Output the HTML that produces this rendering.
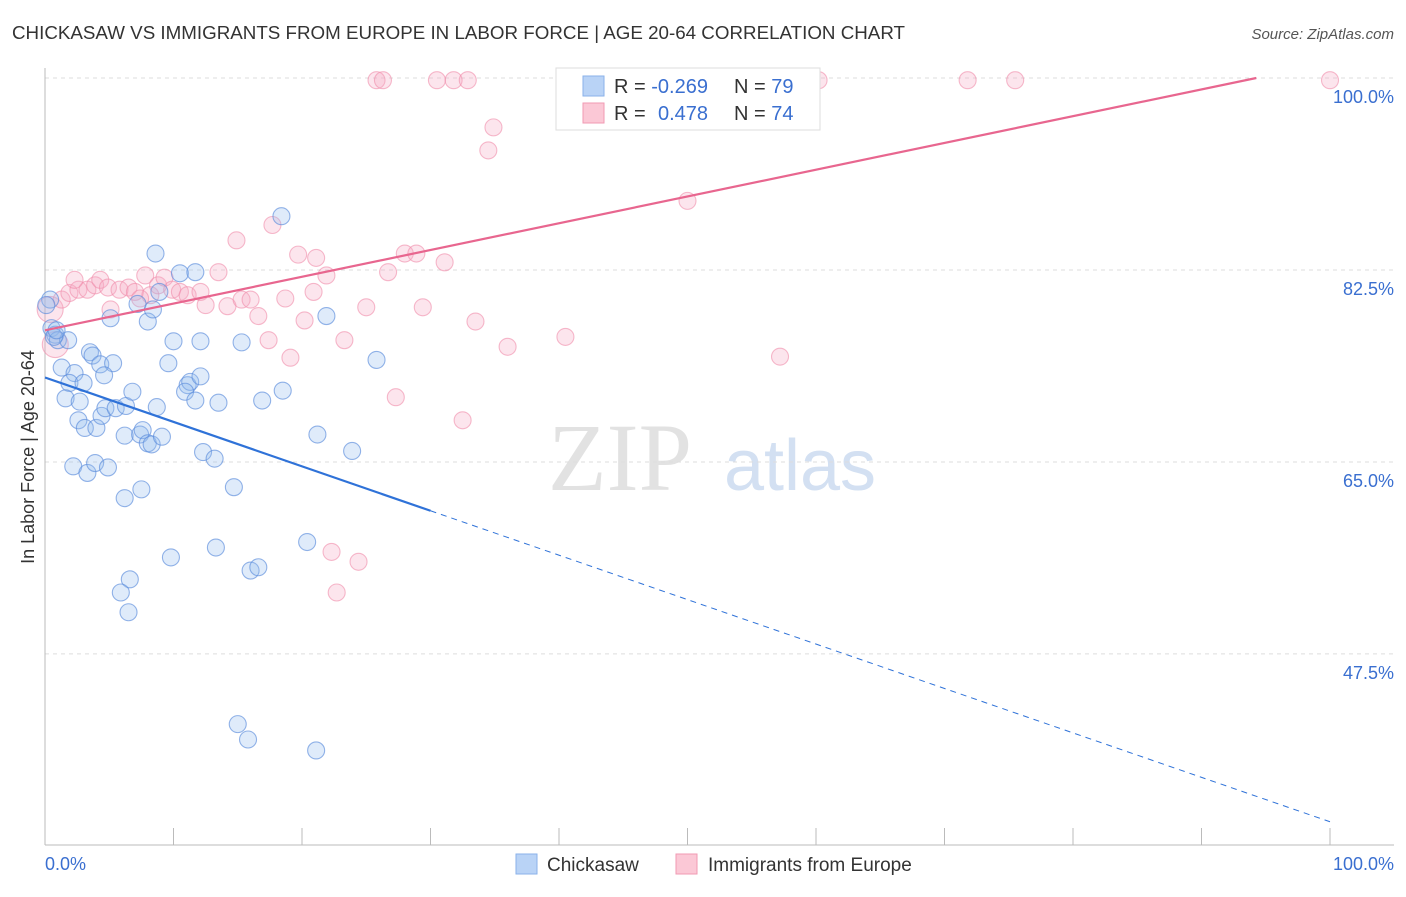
<!DOCTYPE html>
<html><head><meta charset="utf-8"><style>
body{margin:0;background:#fff;font-family:"Liberation Sans",sans-serif;}
</style></head><body>
<svg id="chart" width="1406" height="892" viewBox="0 0 1406 892" xmlns="http://www.w3.org/2000/svg">
<text x="12" y="39" font-size="18" fill="#333" textLength="893" lengthAdjust="spacingAndGlyphs">CHICKASAW VS IMMIGRANTS FROM EUROPE IN LABOR FORCE | AGE 20-64 CORRELATION CHART</text>
<text x="1394" y="39" font-size="15" fill="#555" font-style="italic" text-anchor="end">Source: ZipAtlas.com</text>
<text x="620" y="490" font-size="96" fill="#e2e2e2" font-family="Liberation Serif,serif" text-anchor="middle">ZIP</text>
<text x="800" y="490" font-size="72" fill="#d3e0f2" text-anchor="middle">atlas</text>
<g id="grid"></g>
<g id="axes"></g>
<g id="pts"></g>
<g id="lines"></g>
<text transform="translate(34,457) rotate(-90)" font-size="18" fill="#333" text-anchor="middle">In Labor Force | Age 20-64</text>
<text x="45" y="870" font-size="18" fill="#3a6fd0">0.0%</text>
<text x="1394" y="870" font-size="18" fill="#3a6fd0" text-anchor="end">100.0%</text>
<g>
<rect x="556" y="68" width="264" height="62" fill="#fff" stroke="#ddd"/>
<rect x="583" y="76" width="21" height="20" fill="#b9d3f6" stroke="#8ab2ea"/>
<rect x="583" y="103" width="21" height="20" fill="#fbc8d6" stroke="#f09ab3"/>
<text x="614" y="93" font-size="20" fill="#333">R = <tspan fill="#3a6fd0">-0.269</tspan></text>
<text x="734" y="93" font-size="20" fill="#333">N = <tspan fill="#3a6fd0">79</tspan></text>
<text x="614" y="120" font-size="20" fill="#333">R = <tspan fill="#3a6fd0" x="658">0.478</tspan></text>
<text x="734" y="120" font-size="20" fill="#333">N = <tspan fill="#3a6fd0">74</tspan></text>
</g>
<g>
<rect x="516" y="854" width="21" height="20" fill="#b9d3f6" stroke="#8ab2ea"/>
<text x="547" y="871" font-size="19" fill="#333">Chickasaw</text>
<rect x="676" y="854" width="21" height="20" fill="#fbc8d6" stroke="#f09ab3"/>
<text x="708" y="871" font-size="19" fill="#333">Immigrants from Europe</text>
</g>
</svg>
<script>
const yTicks=[100,82.5,65,47.5];
const yTickLabels=["100.0%","82.5%","65.0%","47.5%"];
const blueX=[0.4,0.5,0.8,1.0,1.8,1.3,2.3,1.9,3.0,1.6,2.7,2.6,3.1,4.0,2.2,3.3,3.9,4.9,3.5,3.7,4.3,5.3,4.6,4.4,4.7,5.5,6.3,6.2,6.8,7.4,7.6,8.0,8.3,9.1,8.7,6.2,7.5,5.1,7.2,8.0,8.4,8.9,8.6,10.5,11.7,9.6,10.0,12.1,11.1,11.3,10.9,11.7,12.1,13.5,12.3,13.2,14.7,15.3,16.9,18.5,18.4,21.9,21.2,23.9,25.8,9.8,13.3,6.6,5.9,6.5,16.0,16.6,20.4,15.0,15.8,21.1,0.7,0.9,0.1];
const blueY=[79.8,77.2,76.6,76.1,76.1,73.6,73.1,72.2,72.2,70.8,70.5,68.8,68.1,68.1,64.6,64.0,64.9,64.5,75.0,74.7,73.9,74.0,72.9,69.2,69.9,69.9,70.1,67.4,71.4,67.5,67.9,66.7,66.6,67.3,70.0,61.7,62.5,78.1,79.4,77.8,78.9,80.5,84.0,82.2,82.3,74.0,76.0,76.0,72.0,72.3,71.4,70.6,72.8,70.4,65.9,65.3,62.7,75.9,70.6,71.5,87.4,78.3,67.5,66.0,74.3,56.3,57.2,54.3,53.1,51.3,55.1,55.4,57.7,41.1,39.7,38.7,76.4,77.0,79.3];
const pinkX=[0.4,0.8,1.3,1.9,2.6,3.3,3.9,4.3,4.9,5.8,6.5,7.0,7.8,8.2,8.8,9.3,9.9,10.5,11.1,12.1,12.5,13.5,14.2,14.9,15.3,16.0,16.6,17.4,17.7,18.7,19.1,19.7,20.2,20.9,21.1,21.9,23.3,25.0,26.7,27.3,28.0,28.9,29.4,31.1,32.5,33.5,36.0,40.5,57.2,50.0,34.5,34.9,22.3,24.4,22.7,25.8,26.3,30.5,31.8,32.9,57.0,60.2,71.8,75.5,100,5.1,7.4,2.3];
const pinkY=[78.9,75.7,79.8,80.4,80.7,80.7,81.1,81.6,80.9,80.7,80.9,80.5,82.0,80.2,81.1,81.8,80.7,80.5,80.2,80.5,79.3,82.3,79.2,85.2,79.8,79.8,78.3,76.1,86.6,79.9,74.5,83.9,77.9,80.5,83.6,82.0,76.1,79.1,82.3,70.9,84.0,84.0,79.1,83.2,68.8,77.8,75.5,76.4,74.6,88.8,93.4,95.5,56.8,55.9,53.1,99.8,99.8,99.8,99.8,99.8,99.8,99.8,99.8,99.8,99.8,78.9,79.9,81.6];
const blueTrend=[72.7,-0.405];
const pinkTrend=[77.0,0.244];
const NS='http://www.w3.org/2000/svg';
const sx=v=>45+v*12.85, sy=v=>78+(100-v)*10.97;
function mk(t,a,p){const e=document.createElementNS(NS,t);for(const k in a)e.setAttribute(k,a[k]);p.appendChild(e);return e;}
const grid=document.getElementById('grid'),axes=document.getElementById('axes'),pts=document.getElementById('pts'),lines=document.getElementById('lines');
yTicks.forEach((t,i)=>{
 const g=mk('line',{x1:45,x2:1394,y1:sy(t),y2:sy(t),stroke:'#ddd','stroke-dasharray':'4,4'},grid);
 
 
 const l=mk('text',{x:1394,y:sy(t)+25,'font-size':18,fill:'#3a6fd0','text-anchor':'end'},grid);
 l.textContent=yTickLabels[i];
 
 
});
const ax=mk('line',{x1:45,x2:45,y1:68,y2:845,stroke:'#bbb'},axes);


const bx=mk('line',{x1:45,x2:1394,y1:845,y2:845,stroke:'#bbb'},axes);


for(let i=0;i<=10;i++){const tk=mk('line',{x1:sx(i*10),x2:sx(i*10),y1:828,y2:845,stroke:'#bbb'},axes);

}
pinkX.forEach((x,i)=>{const c=mk('circle',{cx:sx(x),cy:sy(pinkY[i]),r:(i<2?13:8.5),fill:'rgba(246,170,195,0.3)',stroke:'rgba(240,140,170,0.6)','stroke-width':1.1},pts);

});
blueX.forEach((x,i)=>{const c=mk('circle',{cx:sx(x),cy:sy(blueY[i]),r:8.5,fill:'rgba(150,190,240,0.3)',stroke:'rgba(90,140,220,0.65)','stroke-width':1.1},pts);

});
const by=x=>blueTrend[0]+blueTrend[1]*x, py=x=>pinkTrend[0]+pinkTrend[1]*x;
const b1=mk('line',{x1:sx(0),y1:sy(by(0)),x2:sx(30),y2:sy(by(30)),stroke:'#2f72d8','stroke-width':2.2},lines);


const b2=mk('line',{x1:sx(30),y1:sy(by(30)),x2:sx(100),y2:sy(by(100)),stroke:'#2f72d8','stroke-width':1,'stroke-dasharray':'6,5'},lines);


const xe=(100-pinkTrend[0])/pinkTrend[1];
const p1=mk('line',{x1:sx(0),y1:sy(py(0)),x2:sx(xe),y2:sy(100),stroke:'#e8668f','stroke-width':2.2},lines);


</script>
</body></html>
